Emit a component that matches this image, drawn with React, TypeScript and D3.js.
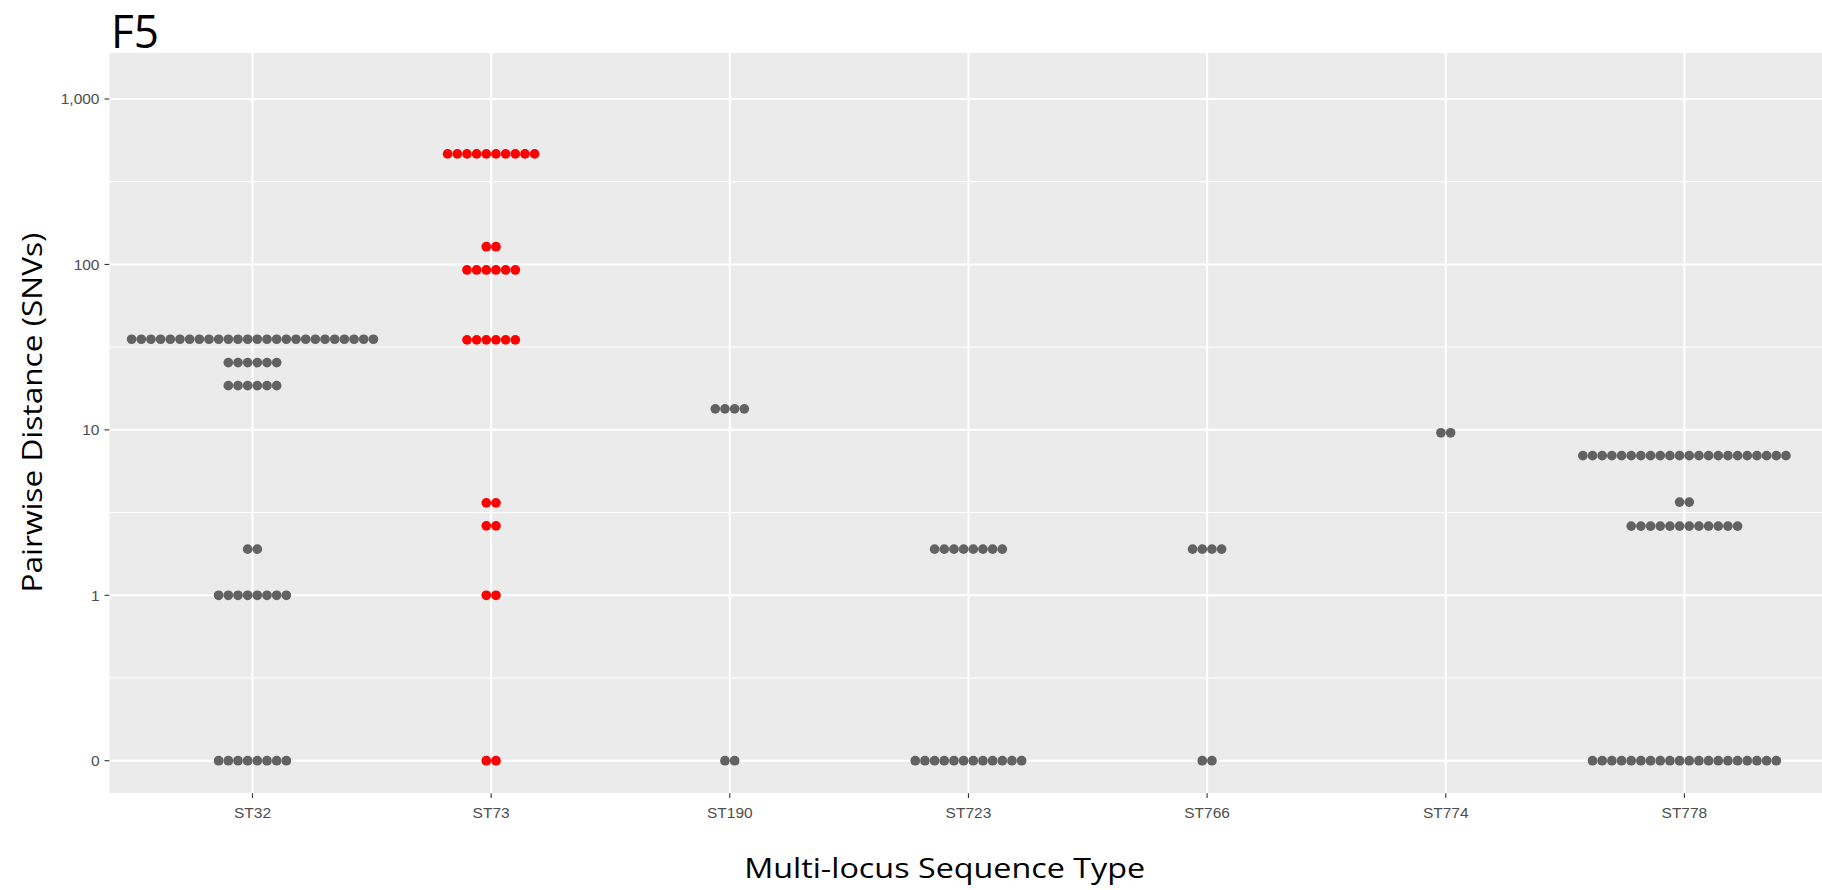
import React from "react";
import * as d3 from "d3";

// Multi-locus sequence types on the x axis
const sequenceTypes = ["ST32", "ST73", "ST190", "ST723", "ST766", "ST774", "ST778"];

// Pairwise SNV distances per sequence type: each row is one stacked bin (value, dot count)
const st32Rows = [
  { snv: 35.3, n: 26 },
  { snv: 25.5, n: 6 },
  { snv: 18.5, n: 6 },
  { snv: 1.9, n: 2 },
  { snv: 1, n: 8 },
  { snv: 0, n: 8 },
];
const st73Rows = [
  { snv: 466, n: 10 },
  { snv: 128, n: 2 },
  { snv: 92.6, n: 6 },
  { snv: 35, n: 6 },
  { snv: 3.62, n: 2 },
  { snv: 2.63, n: 2 },
  { snv: 1, n: 2 },
  { snv: 0, n: 2 },
];
const st190Rows = [
  { snv: 13.4, n: 4 },
  { snv: 0, n: 2 },
];
const st723Rows = [
  { snv: 1.9, n: 8 },
  { snv: 0, n: 12 },
];
const st766Rows = [
  { snv: 1.9, n: 4 },
  { snv: 0, n: 2 },
];
const st774Rows = [{ snv: 9.6, n: 2 }];
const st778Rows = [
  { snv: 6.98, n: 22 },
  { snv: 3.66, n: 2 },
  { snv: 2.62, n: 12 },
  { snv: 0, n: 20 },
];

// Sequence types whose pairs are highlighted in red
const highlightedTypes = ["ST73"];

const yTickValues = [0, 1, 10, 100, 1000];
const yTickLabels = ["0", "1", "10", "100", "1,000"];
const yMinorValues = [-0.5, 0.5, 1.5, 2.5]; // half-decade grid lines (log10 units)

const W = 1822;
const H = 890;
const panel = { left: 109.3, right: 1827.6, top: 52.7, bottom: 793.3 };

// zero is drawn one decade below 1
const toLog = (v: number) => Math.log10(Math.max(v, 0.1));

export default function App() {
  const x = d3
    .scalePoint<string>()
    .domain(sequenceTypes)
    .range([panel.left, panel.right])
    .padding(0.6);

  const y = d3.scaleLinear().domain([-1.197, 3.28]).range([panel.bottom, panel.top]);

  const groups: Record<string, { snv: number; n: number }[]> = {
    ST32: st32Rows,
    ST73: st73Rows,
    ST190: st190Rows,
    ST723: st723Rows,
    ST766: st766Rows,
    ST774: st774Rows,
    ST778: st778Rows,
  };

  const dotStep = 9.67;
  const dotR = 4.85;

  const dots: { cx: number; cy: number; fill: string; key: string }[] = [];
  sequenceTypes.forEach((st) => {
    const fill = highlightedTypes.includes(st) ? "#FF0000" : "#626262";
    groups[st].forEach((row, ri) => {
      for (let i = 0; i < row.n; i++) {
        dots.push({
          cx: (x(st) as number) + (i - (row.n - 1) / 2) * dotStep,
          cy: y(toLog(row.snv)),
          fill,
          key: `${st}-${ri}-${i}`,
        });
      }
    });
  });

  React.useEffect(() => {
    document.body.style.overflow = "hidden";
  }, []);

  const tickFont = "'Liberation Sans', Arial, sans-serif";
  const titleFont = "'Open Sans', 'Noto Sans', sans-serif";

  return (
    <svg
      width={W}
      height={H}
      style={{ position: "absolute", left: 0, top: 0, background: "#fff" }}
    >
      <defs>
        <clipPath id="panelClip">
          <rect x={panel.left} y={panel.top} width={panel.right - panel.left} height={panel.bottom - panel.top} />
        </clipPath>
      </defs>

      <text x={111} y={47.5} fontFamily={titleFont} fontSize={46} fill="#000" textLength={48} lengthAdjust="spacingAndGlyphs">
        F5
      </text>

      <g clipPath="url(#panelClip)">
        <rect x={panel.left} y={panel.top} width={panel.right - panel.left} height={panel.bottom - panel.top} fill="#EBEBEB" />
        {yMinorValues.map((v) => (
          <line key={`m${v}`} x1={panel.left} x2={panel.right} y1={y(v)} y2={y(v)} stroke="#fff" strokeWidth={1} />
        ))}
        {yTickValues.map((v) => (
          <line key={`g${v}`} x1={panel.left} x2={panel.right} y1={y(toLog(v))} y2={y(toLog(v))} stroke="#fff" strokeWidth={2} />
        ))}
        {sequenceTypes.map((st) => (
          <line key={`v${st}`} x1={x(st)} x2={x(st)} y1={panel.top} y2={panel.bottom} stroke="#fff" strokeWidth={2} />
        ))}
        {dots.map((d) => (
          <circle key={d.key} cx={d.cx} cy={d.cy} r={dotR} fill={d.fill} />
        ))}
      </g>

      {/* y axis */}
      {yTickValues.map((v, i) => (
        <g key={`yt${v}`}>
          <line x1={104.5} x2={panel.left} y1={y(toLog(v))} y2={y(toLog(v))} stroke="#333" strokeWidth={1.1} />
          <text
            x={99.5}
            y={y(toLog(v))}
            dy="0.35em"
            textAnchor="end"
            fontFamily={tickFont}
            fontSize={15.5}
            fill="#4D4D4D"
          >
            {yTickLabels[i]}
          </text>
        </g>
      ))}

      {/* x axis */}
      {sequenceTypes.map((st) => (
        <g key={`xt${st}`}>
          <line x1={x(st)} x2={x(st)} y1={panel.bottom} y2={panel.bottom + 4.8} stroke="#333" strokeWidth={1.1} />
          <text x={x(st)} y={817.5} textAnchor="middle" fontFamily={tickFont} fontSize={15.5} fill="#4D4D4D">
            {st}
          </text>
        </g>
      ))}

      <text
        x={944.7}
        y={878}
        textAnchor="middle"
        fontFamily={titleFont}
        fontSize={28}
        fill="#000"
        textLength={401}
        lengthAdjust="spacingAndGlyphs"
      >
        Multi-locus Sequence Type
      </text>

      <text
        transform={`translate(42,${412.6}) rotate(-90)`}
        textAnchor="middle"
        fontFamily={titleFont}
        fontSize={28}
        fill="#000"
        textLength={360}
        lengthAdjust="spacingAndGlyphs"
      >
        Pairwise Distance (SNVs)
      </text>
    </svg>
  );
}
